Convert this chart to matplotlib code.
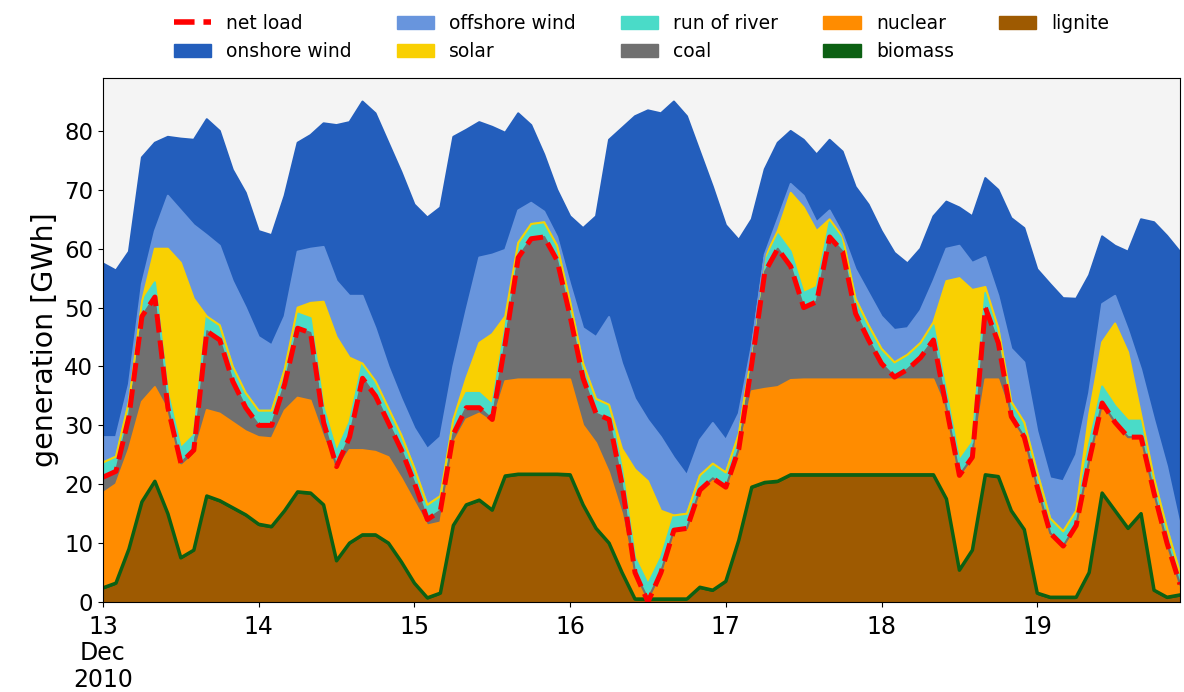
import numpy as np
import pandas as pd
import matplotlib
matplotlib.use('Agg')
import matplotlib.pyplot as plt
from matplotlib.patches import Patch
from matplotlib.lines import Line2D

# two-hourly snapshots, 13 Dec 2010 00:00 .. 19 Dec 2010 22:00
times = pd.date_range('2010-12-13 00:00', periods=84, freq='2h')

# generation per carrier [GWh]
lignite = [1.9, 2.7, 8.5, 16.5, 20.0, 14.5, 7.0, 8.3, 17.5, 16.7, 15.5, 14.3,
           12.7, 12.3, 15.0, 18.2, 18.0, 16.0, 6.5, 9.5, 10.9, 10.9, 9.5, 6.3,
           2.7, 0.2, 1.0, 12.5, 16.0, 16.8, 15.1, 20.9, 21.2, 21.2, 21.2, 21.2,
           21.1, 16.0, 12.0, 9.5, 4.5, 0.0, 0.0, 0.0, 0.0, 0.0, 2.0, 1.5,
           3.0, 10.0, 19.0, 19.8, 20.0, 21.1, 21.1, 21.1, 21.1, 21.1, 21.1, 21.1,
           21.1, 21.1, 21.1, 21.1, 21.1, 17.0, 4.9, 8.3, 21.1, 20.8, 15.0, 11.8,
           1.0, 0.3, 0.3, 0.3, 4.5, 18.0, 15.0, 12.0, 14.5, 1.5, 0.3, 0.7]
biomass = [0.5, 0.5, 0.5, 0.5, 0.5, 0.5, 0.5, 0.5, 0.5, 0.5, 0.5, 0.5,
           0.5, 0.5, 0.5, 0.5, 0.5, 0.5, 0.5, 0.5, 0.5, 0.5, 0.5, 0.5,
           0.5, 0.5, 0.5, 0.5, 0.5, 0.5, 0.5, 0.5, 0.5, 0.5, 0.5, 0.5,
           0.5, 0.5, 0.5, 0.5, 0.5, 0.5, 0.5, 0.5, 0.5, 0.5, 0.5, 0.5,
           0.5, 0.5, 0.5, 0.5, 0.5, 0.5, 0.5, 0.5, 0.5, 0.5, 0.5, 0.5,
           0.5, 0.5, 0.5, 0.5, 0.5, 0.5, 0.5, 0.5, 0.5, 0.5, 0.5, 0.5,
           0.5, 0.5, 0.5, 0.5, 0.5, 0.5, 0.5, 0.5, 0.5, 0.5, 0.5, 0.5]
nuclear = [16.1, 16.8, 17.0, 17.0, 16.0, 17.5, 15.5, 16.2, 14.6, 14.8, 14.5, 14.2,
           14.8, 15.0, 17.0, 16.0, 15.7, 11.5, 15.5, 15.8, 14.4, 14.1, 14.6, 14.2,
           13.8, 12.3, 12.0, 14.0, 14.5, 14.7, 14.9, 16.1, 16.1, 16.1, 16.1, 16.1,
           16.2, 13.5, 14.5, 12.0, 10.0, 3.5, 0.0, 4.5, 11.2, 11.5, 16.0, 18.8,
           15.7, 15.0, 16.3, 15.9, 16.0, 16.1, 16.2, 16.2, 16.2, 16.2, 16.2, 16.2,
           16.2, 16.2, 16.2, 16.2, 16.2, 15.0, 15.6, 15.2, 16.2, 16.5, 15.8, 15.5,
           17.8, 10.7, 8.5, 12.0, 18.8, 15.1, 14.8, 15.3, 12.8, 16.3, 9.0, 1.6]
coal = [2.7, 2.2, 5.5, 14.5, 15.3, 0.5, 0.6, 0.8, 13.4, 12.5, 7.0, 4.0,
        2.0, 2.2, 4.5, 11.8, 11.5, 2.5, 0.5, 2.2, 12.2, 9.5, 5.8, 4.8,
        3.2, 1.0, 2.0, 1.5, 2.0, 1.0, 0.5, 6.5, 20.7, 23.9, 24.2, 20.2,
        10.7, 8.0, 5.0, 9.0, 5.0, 1.0, 0.0, 0.0, 0.5, 0.5, 0.5, 0.2,
        0.3, 0.5, 4.7, 19.8, 23.5, 19.3, 12.2, 13.2, 24.2, 21.7, 11.2, 6.7,
        2.7, 0.4, 1.7, 3.7, 6.7, 0.5, 0.5, 0.6, 12.2, 6.2, 0.2, 0.2,
        0.2, 0.2, 0.2, 0.2, 0.2, 0.2, 0.2, 0.2, 0.2, 0.2, 0.2, 0.2]
run_of_river = [2.5, 2.5, 2.5, 2.5, 2.5, 2.5, 2.5, 2.5, 2.5, 2.5, 2.5, 2.5,
                2.5, 2.5, 2.5, 2.5, 2.5, 2.5, 2.5, 2.5, 2.5, 2.5, 2.5, 2.5,
                2.5, 2.5, 2.5, 2.5, 2.5, 2.5, 2.5, 2.5, 2.5, 2.5, 2.5, 2.5,
                2.5, 2.5, 2.5, 2.5, 2.5, 2.5, 2.5, 2.5, 2.5, 2.5, 2.5, 2.5,
                2.5, 2.5, 2.5, 2.5, 2.5, 2.5, 2.5, 2.5, 2.5, 2.5, 2.5, 2.5,
                2.5, 2.5, 2.5, 2.5, 2.5, 2.5, 2.5, 2.5, 2.5, 2.5, 2.5, 2.5,
                2.5, 2.5, 2.5, 2.5, 2.8, 2.8, 2.8, 2.8, 2.8, 2.5, 2.5, 2.0]
solar = [0, 0, 0, 0, 5.7, 24.5, 31.5, 23.2, 0, 0, 0, 0,
         0, 0, 0, 1.0, 2.6, 18.0, 19.5, 11.0, 0, 0, 0, 0,
         0, 0, 0, 0, 2.5, 8.5, 12.0, 2.0, 0, 0, 0, 0,
         0, 0, 0, 0, 3.5, 15.0, 17.5, 8.0, 0, 0, 0, 0,
         0, 0, 0, 0, 0.5, 10.0, 14.5, 9.5, 0.5, 0, 0, 0,
         0, 0, 0, 0, 0.5, 19.0, 31.0, 25.9, 1.0, 0, 0, 0,
         0, 0, 0, 0, 5.0, 7.5, 14.0, 11.6, 1.0, 0, 0, 0]
offshore_wind = [4.3, 3.3, 3.0, 3.0, 3.0, 9.0, 8.9, 12.5, 13.8, 13.5, 14.5, 14.5,
                 12.5, 11.1, 9.0, 9.5, 9.2, 9.3, 9.5, 10.5, 11.5, 9.0, 7.1, 6.2,
                 6.8, 9.5, 10.0, 9.0, 11.5, 14.5, 13.5, 11.3, 5.5, 3.6, 1.8, 1.5,
                 3.0, 6.0, 10.5, 14.9, 14.5, 12.0, 10.4, 12.5, 9.8, 6.5, 6.0, 6.9,
                 5.5, 3.5, 0.5, 0.5, 2.0, 1.5, 2.0, 1.5, 1.5, 0.5, 5.0, 5.5,
                 5.5, 5.5, 4.5, 5.5, 7.0, 5.5, 5.5, 4.6, 5.1, 5.5, 9.0, 10.2,
                 7.0, 6.8, 8.5, 9.5, 3.7, 6.5, 4.7, 3.8, 7.7, 10.0, 10.5, 8.0]
onshore_wind = [29.5, 28.3, 22.5, 21.5, 15.0, 10.0, 12.2, 14.5, 19.7, 19.5, 18.9, 19.5,
                18.0, 18.7, 20.5, 18.5, 19.3, 21.0, 26.5, 29.5, 33.0, 36.5, 38.0, 38.5,
                38.0, 39.3, 39.0, 39.0, 30.7, 23.0, 21.7, 19.9, 16.5, 13.2, 9.7, 8.0,
                11.5, 17.0, 20.5, 30.1, 40.0, 48.0, 52.6, 55.0, 60.5, 61.0, 49.0, 40.1,
                36.5, 29.5, 21.5, 14.5, 13.0, 9.0, 9.5, 11.5, 12.0, 14.0, 14.0, 15.0,
                14.5, 13.1, 11.0, 10.5, 11.0, 8.0, 6.5, 7.9, 13.4, 18.0, 22.2, 22.8,
                27.5, 33.0, 31.1, 26.5, 20.0, 11.5, 8.5, 13.3, 25.5, 33.5, 39.2, 46.5]
net_load = [21.2, 22.2, 31.5, 48.5, 51.8, 33.0, 23.6, 25.8, 46.0, 44.5, 37.5, 33.0,
            30.0, 30.0, 37.0, 46.5, 45.7, 30.5, 23.0, 28.0, 38.0, 35.0, 30.4, 25.8,
            20.2, 14.0, 15.5, 28.5, 33.0, 33.0, 31.0, 44.0, 58.5, 61.7, 62.0, 58.0,
            48.5, 38.0, 32.0, 31.0, 20.0, 5.0, 0.0, 5.0, 12.2, 12.5, 19.0, 21.0,
            19.5, 26.0, 40.5, 56.0, 60.0, 57.0, 50.0, 51.0, 62.0, 59.5, 49.0, 44.5,
            40.5, 38.2, 39.5, 41.5, 44.5, 33.0, 21.5, 24.6, 50.0, 44.0, 31.5, 28.0,
            19.5, 11.7, 9.5, 13.0, 24.0, 33.8, 30.5, 28.0, 28.0, 18.5, 10.0, 3.0]

carriers = ['lignite', 'biomass', 'nuclear', 'coal', 'run of river',
            'solar', 'offshore wind', 'onshore wind']
series = [lignite, biomass, nuclear, coal, run_of_river,
          solar, offshore_wind, onshore_wind]
colors = {'lignite': '#9e5a01', 'biomass': '#0c6013', 'nuclear': '#ff8c00',
          'coal': '#707070', 'run of river': '#4adbc8', 'solar': '#f9d002',
          'offshore wind': '#6895dd', 'onshore wind': '#235ebc'}

fig = plt.figure(figsize=(11.84, 6.92), dpi=100)
ax = fig.add_axes([103/1184, 1 - 602/692, 1077/1184, 524/692])
ax.set_facecolor('#f4f4f4')

ax.stackplot(times, *series, colors=[colors[c] for c in carriers], linewidth=0)
tops = np.cumsum(np.array(series), axis=0)
for c, top in zip(carriers, tops):
    ax.plot(times, top, color=colors[c], lw=2.5 if c == 'biomass' else 1.5)
ax.plot(times, net_load, color='red', ls='--', lw=3.6)

ax.set_xlim(times[0], times[-1])
ax.set_ylim(0, 89)
ax.set_yticks(range(0, 81, 10))
days = pd.date_range('2010-12-13', periods=7, freq='D')
ax.set_xticks(days)
ax.set_xticklabels(['13\nDec\n2010'] + [str(d.day) for d in days[1:]], linespacing=1.15)
ax.tick_params(axis='y', labelsize=16.5)
ax.tick_params(axis='x', labelsize=17, pad=5.5)
ax.set_ylabel('generation [GWh]', fontsize=20.5)

handles = [Line2D([], [], color='red', ls='--', lw=4)]
labels = ['net load']
for c in carriers[::-1]:
    handles.append(Patch(color=colors[c]))
    labels.append(c)
ax.legend(handles, labels, ncol=5, loc='lower center', bbox_to_anchor=(0.5, 1.0),
          frameon=False, fontsize=13.5, columnspacing=2.4, labelspacing=0.5)

fig.savefig('out.png', dpi=100)
